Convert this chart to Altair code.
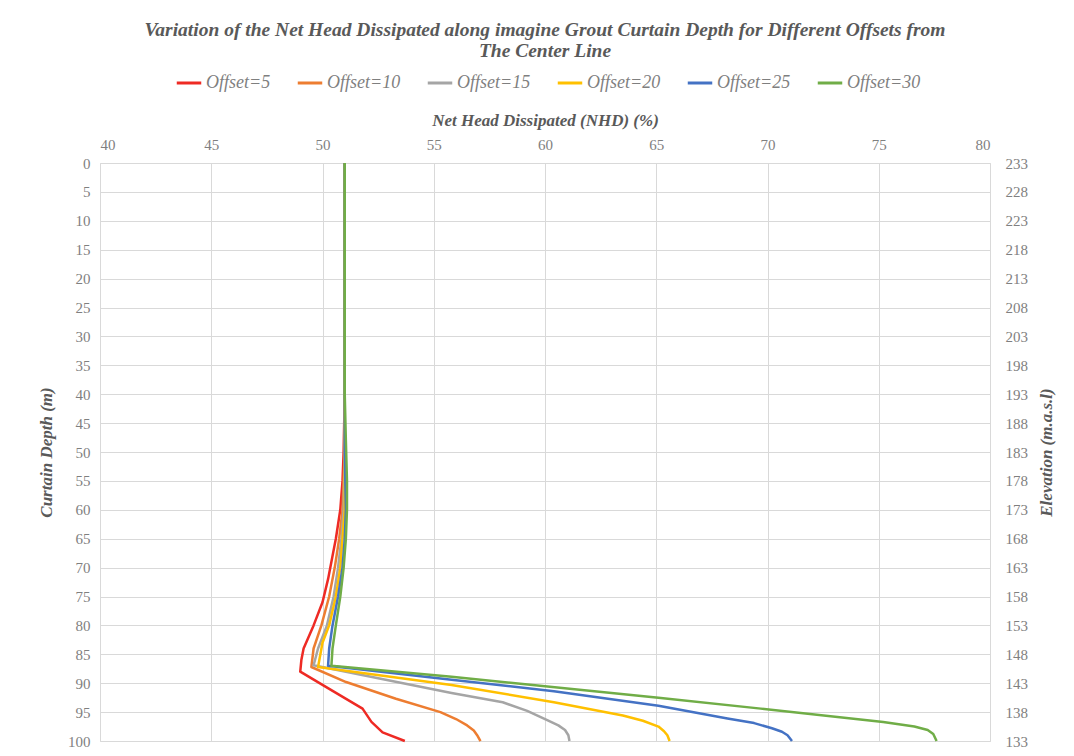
import altair as alt
import pandas as pd

series_names = ["Offset=5", "Offset=10", "Offset=15", "Offset=20", "Offset=25", "Offset=30"]
series_colors = ["#EE2A24", "#ED7D31", "#A5A5A5", "#FFC000", "#4472C4", "#70AD47"]

depth_5 = [0, 10, 20, 30, 40, 50, 55, 60, 65, 68, 72, 76, 80, 84, 86, 88, 90.3, 92.7, 94.4, 96.7, 98.5, 100]
nhd_5 = [51.0, 51.0, 51.0, 51.0, 51.0, 50.95, 50.9, 50.8, 50.6, 50.45, 50.25, 50.0, 49.6, 49.15, 49.05, 49.0, 50.0, 51.06, 51.8, 52.2, 52.7, 53.7]

depth_10 = [0, 10, 20, 30, 40, 50, 55, 60, 65, 70, 75, 80, 84, 87.2, 89.8, 92.7, 95, 96.2, 97.3, 98.2, 99, 100]
nhd_10 = [51.0, 51.0, 51.0, 51.0, 51.0, 51.0, 50.95, 50.9, 50.75, 50.55, 50.3, 49.95, 49.6, 49.5, 51.06, 53.3, 55.3, 56.0, 56.5, 56.8, 56.95, 57.1]

depth_15 = [0, 10, 20, 30, 40, 50, 60, 65, 70, 75, 80, 84, 86.9, 91.7, 93.3, 94.8, 96.4, 97.3, 98.1, 99, 100]
nhd_15 = [51.0, 51.0, 51.0, 51.0, 51.0, 51.0, 50.95, 50.85, 50.7, 50.5, 50.2, 49.8, 49.6, 55.8, 58.1, 59.2, 60.1, 60.6, 60.9, 61.05, 61.1]

depth_20 = [0, 10, 20, 30, 40, 50, 60, 65, 70, 75, 80, 83, 87.2, 90.3, 93.3, 95.6, 96.5, 97.5, 98.3, 99, 100]
nhd_20 = [51.0, 51.0, 51.0, 51.0, 51.0, 51.0, 51.0, 50.9, 50.8, 50.6, 50.3, 50.0, 49.8, 55.8, 60.4, 63.5, 64.4, 65.1, 65.35, 65.5, 65.6]

depth_25 = [0, 10, 20, 30, 40, 50, 60, 65, 70, 75, 80, 84, 87, 89.4, 91.4, 93.9, 96.1, 96.9, 97.8, 98.4, 99, 100]
nhd_25 = [51.0, 51.0, 51.0, 51.0, 51.0, 51.0, 51.05, 51.0, 50.9, 50.7, 50.45, 50.3, 50.25, 55.8, 60.4, 65.1, 68.2, 69.4, 70.2, 70.65, 70.9, 71.1]

depth_30 = [0, 10, 20, 30, 40, 48, 55, 60, 65, 70, 75, 80, 84, 87, 88.9, 92.5, 94.4, 96.7, 97.5, 98.1, 98.8, 100]
nhd_30 = [51.0, 51.0, 51.0, 51.0, 51.0, 51.05, 51.1, 51.1, 51.05, 50.95, 50.8, 50.6, 50.45, 50.4, 55.8, 65.1, 69.7, 75.2, 76.6, 77.2, 77.45, 77.6]

x_ticks = [40, 45, 50, 55, 60, 65, 70, 75, 80]
y_ticks = list(range(0, 101, 5))
top_elevation = 233

title_lines = [
    "Variation of the Net Head Dissipated along imagine Grout Curtain Depth for Different Offsets from",
    "The Center Line",
]

all_depths = [depth_5, depth_10, depth_15, depth_20, depth_25, depth_30]
all_nhd = [nhd_5, nhd_10, nhd_15, nhd_20, nhd_25, nhd_30]
rows = []
for name, ds, vs in zip(series_names, all_depths, all_nhd):
    for i, (d, v) in enumerate(zip(ds, vs)):
        rows.append({"series": name, "depth": d, "nhd": v, "idx": i})
df = pd.DataFrame(rows)

FONT = "Liberation Serif"
GREY = "#595959"
LABEL_GREY = "#7F7F7F"

y_scale = alt.Scale(domain=[0, 100], reverse=True, nice=False)

lines = alt.Chart(df).mark_line(strokeWidth=2.5, strokeJoin="round").encode(
    x=alt.X("nhd:Q",
            scale=alt.Scale(domain=[40, 80], nice=False),
            axis=alt.Axis(orient="top", values=x_ticks, title="Net Head Dissipated (NHD) (%)",
                          titleFontStyle="italic", titleFontWeight="bold", titleFontSize=17,
                          titleColor=GREY, titleFont=FONT, titlePadding=8,
                          labelFont=FONT, labelFontSize=15, labelColor=LABEL_GREY, labelPadding=11,
                          ticks=False, domain=False, grid=True, gridColor="#D9D9D9")),
    y=alt.Y("depth:Q", scale=y_scale,
            axis=alt.Axis(orient="left", values=y_ticks, title="Curtain Depth (m)",
                          titleFontStyle="italic", titleFontWeight="bold", titleFontSize=17,
                          titleColor=GREY, titleFont=FONT, titlePadding=12,
                          labelFont=FONT, labelFontSize=15, labelColor=LABEL_GREY, labelPadding=10,
                          ticks=False, domain=False, grid=True, gridColor="#D9D9D9")),
    color=alt.Color("series:N",
                    scale=alt.Scale(domain=series_names, range=series_colors),
                    legend=alt.Legend(orient="none", legendX=75, legendY=-94,
                                      direction="horizontal", title=None,
                                      symbolType="stroke", symbolSize=600, symbolStrokeWidth=3,
                                      labelFont=FONT, labelFontStyle="italic", labelFontSize=18,
                                      labelColor=LABEL_GREY, columnPadding=20, labelOffset=3)),
    order=alt.Order("idx:Q"),
)

right_axis = alt.Chart(df).mark_point(opacity=0).encode(
    y=alt.Y("depth:Q", scale=y_scale,
            axis=alt.Axis(orient="right", values=y_ticks, title="Elevation (m.a.s.l)",
                          labelExpr=f"{top_elevation} - datum.value",
                          titleAngle=270, titleFontStyle="italic", titleFontWeight="bold",
                          titleFontSize=17, titleColor=GREY, titleFont=FONT, titlePadding=28,
                          labelFont=FONT, labelFontSize=15, labelColor=LABEL_GREY, labelPadding=15,
                          ticks=False, domain=False, grid=False)),
)

chart = alt.layer(lines, right_axis).resolve_axis(y="independent").properties(
    width=890, height=578,
    autosize=alt.AutoSizeParams(type="none"),
    padding={"left": 92, "top": 155, "right": 70, "bottom": 12},
    title=alt.TitleParams(text=title_lines, font=FONT, fontSize=19.5, fontStyle="italic",
                          fontWeight="bold", color=GREY, anchor="middle", lineHeight=21, offset=8),
).configure_view(stroke=None).configure(background="white")

chart.save("out.html", embed_options={"renderer": "svg", "actions": False})
